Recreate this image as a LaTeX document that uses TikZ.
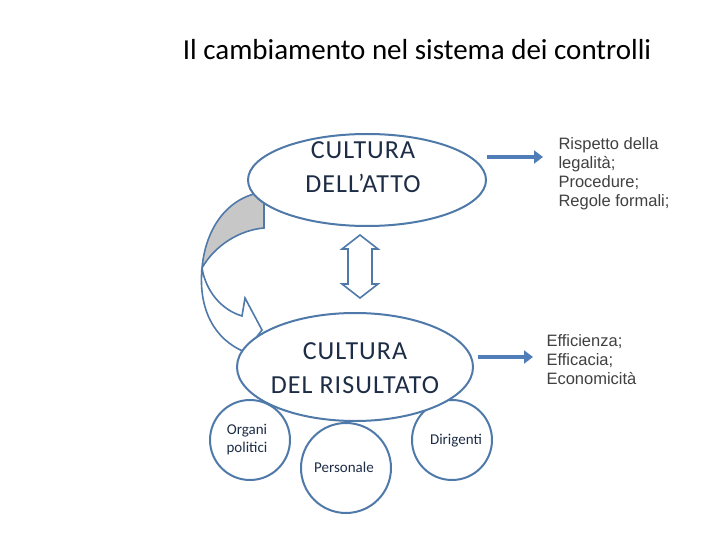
\documentclass[tikz,border=0pt]{standalone}
\usepackage{fontspec}
\setmainfont{Carlito}
\newfontfamily\arialf{Liberation Sans}
\newfontfamily\spacedf[LetterSpace=4]{Carlito}
\usetikzlibrary{arrows.meta}
\definecolor{edge}{RGB}{79,121,168}
\definecolor{txt}{RGB}{30,45,70}
\definecolor{arr}{RGB}{79,125,185}
\tikzset{
  ell/.style={draw=edge,line width=2pt,fill=white},
  circ/.style={draw=edge,line width=2pt,fill=white},
  lbl/.style={font=\spacedf\fontsize{26}{34}\selectfont,text=txt,align=center},
  small/.style={font=\fontsize{15}{18}\selectfont,text=txt,align=center},
  side/.style={font=\arialf\fontsize{16.5}{19}\selectfont,text=black!75,align=left,anchor=north west},
  bluearr/.style={draw=arr,line width=4.5pt,-{Triangle[length=9pt,width=13pt]}}
}
\begin{document}
\begin{tikzpicture}[x=1pt,y=-1pt]
\useasboundingbox (0,0) rectangle (720,540);
\node[font=\fontsize{29}{32}\selectfont] (title) at (417,50) {Il cambiamento nel sistema dei controlli};
% circles
\draw[circ] (250,440) circle (40);
\node[small] (org) at (247,440) {Organi\\politici};
\draw[circ] (346,468) circle (45);
\node[small] (pers) at (344,467) {Personale};
\draw[circ] (452,440) circle (40);
\node[small] (dir) at (456,441) {Dirigenti};
% curved arrow gray part
\draw[edge,line width=1.6pt,fill=black!22] (264,192) .. controls (230,196) and (206,225) .. (202,268)
  .. controls (215,245) and (240,230) .. (264,228) -- cycle;
% white part with head
\draw[edge,line width=1.6pt,fill=white] (202,268) .. controls (198,310) and (215,340) .. (245,352)
  -- (262,330) -- (245,298) -- (242,316) .. controls (222,310) and (206,292) .. (202,268);
% ellipses
\draw[ell] (367,180) ellipse (119 and 46);
\node[lbl] (atto) at (363,167) {CULTURA\\DELL’ATTO};
\draw[ell] (355,367) ellipse (118 and 54);
\node[lbl] (ris) at (355,368) {CULTURA\\DEL RISULTATO};
% double arrow
\draw[edge,line width=1.6pt,fill=white] (360,235) -- (378,249) -- (372,249) -- (372,284) -- (378,284) -- (360,298)
  -- (342,284) -- (348,284) -- (348,249) -- (342,249) -- cycle;
% right arrows
\coordinate (a1) at (487,157); \coordinate (b1) at (543,157);
\draw[bluearr] (a1) -- (b1);
\coordinate (a2) at (478,357); \coordinate (b2) at (533,357);
\draw[bluearr] (a2) -- (b2);
\node[side] (t1) at (555,134) {Rispetto della\\legalità;\\Procedure;\\Regole formali;};
\node[side] (t2) at (543,331) {Efficienza;\\Efficacia;\\Economicità};
\end{tikzpicture}
\end{document}
